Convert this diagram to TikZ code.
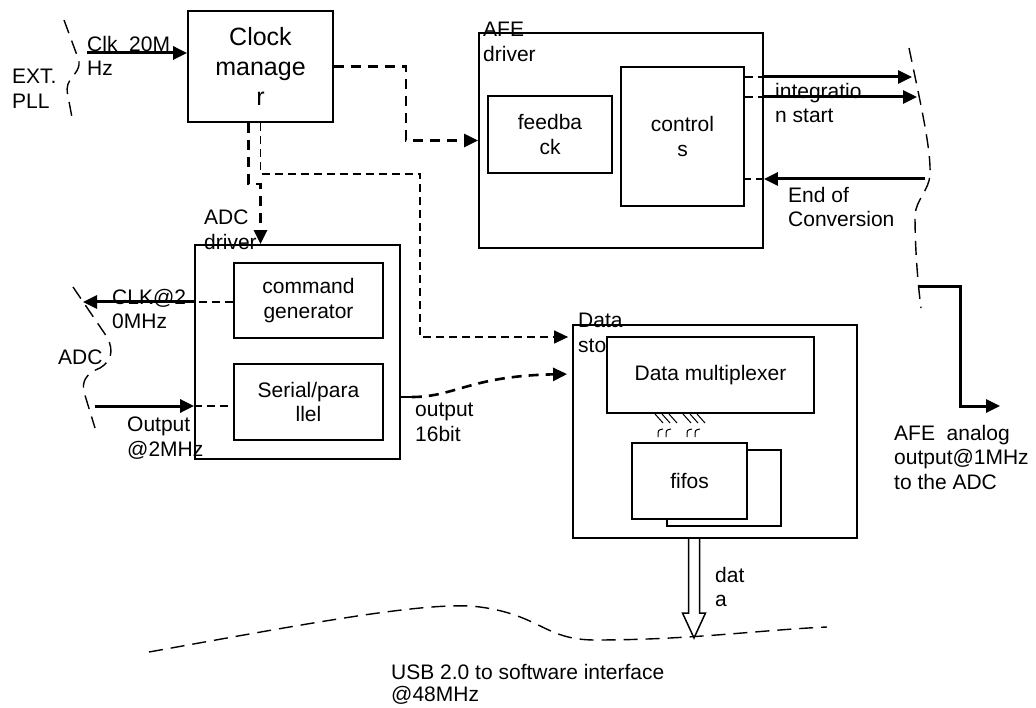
\documentclass[tikz,border=0pt]{standalone}
\usepackage{fontspec}
\setmainfont{Liberation Sans}
\usetikzlibrary{arrows.meta,calc}
\newcommand\lblfont{\fontsize{21}{24.5}\selectfont}
\newcommand\bigfont{\fontsize{25}{30}\selectfont}
\tikzset{
  blk/.style={draw, line width=1.8pt, fill=white, inner sep=0pt, align=center, font=\lblfont},
  txt/.style={inner sep=0pt, align=left, anchor=north west, font=\lblfont},
  sig/.style={line width=3pt, -{Triangle[length=14pt,width=13pt]}},
  thkdash/.style={line width=2.6pt, dash pattern=on 10pt off 7pt},
  thndash/.style={line width=1.4pt, dash pattern=on 8pt off 5pt},
  bnd/.style={line width=1.4pt, dash pattern=on 14pt off 8pt},
  tip/.style={-{Triangle[length=14pt,width=13pt]}}
}
\begin{document}
\begin{tikzpicture}[x=1pt,y=-1pt]
  \useasboundingbox (0,0) rectangle (1036,708);

  % blocks
  \node[blk, minimum width=145pt, minimum height=111pt, font=\bigfont] (clock) at (260.5,66.5) {Clock\\manage\\r};
  \node[blk, minimum width=284pt, minimum height=215pt] (afe) at (621,140.5) {};
  \node[txt] (afelbl) at (483,22) {AFE\\driver};
  \node[blk, minimum width=124pt, minimum height=77pt] (fb) at (550,134.5) {feedba\\ck};
  \node[blk, minimum width=123pt, minimum height=139pt] (ctrl) at (682.5,136.5) {control\\s};

  \node[blk, minimum width=205pt, minimum height=214pt] (adcdrv) at (297.5,352) {};
  \node[txt] (adclbl) at (204,210) {ADC\\driver};
  \node[blk, minimum width=149pt, minimum height=75pt] (cmd) at (308.5,300.5) {command\\generator};
  \node[blk, minimum width=149pt, minimum height=76pt] (ser) at (308.5,402) {Serial/para\\llel};

  \node[blk, minimum width=284pt, minimum height=213pt] (store) at (715,431.5) {};
  \node[txt] (storelbl) at (578,313) {Data\\storage};
  \node[blk, minimum width=207pt, minimum height=76pt] (mux) at (710.5,375) {Data multiplexer};
  \node[blk, minimum width=114pt, minimum height=76pt] (fifob) at (724,488) {};
  \node[blk, minimum width=115pt, minimum height=76pt] (fifo) at (689.5,481) {fifos};

  % bus marks
  \foreach \x in {655,662,669,683,690,697} {
    \draw[line width=1pt] (\x,414) -- ++(8,9);
  }
  \foreach \x in {658,666,687,695} {
    \draw[line width=1pt] (\x+5,429) .. controls (\x,430) .. (\x,437);
  }

  % labels
  \node[txt] (extlbl) at (12,69) {EXT.\\PLL};
  \node[txt] (clklbl) at (87,36) {Clk\ \ 20M\\Hz};
  \node[txt] (intlbl) at (775,83) {integratio\\n start};
  \node[txt] (eoclbl) at (788,187) {End of\\Conversion};
  \node[txt] (adcclk) at (112,289) {CLK@2\\0MHz};
  \node[txt] (adcname) at (58,350) {ADC};
  \node[txt] (outlbl) at (127,417) {Output\\@2MHz};
  \node[txt] (bitlbl) at (415,403) {output\\16bit};
  \node[txt] (anlbl) at (894,425) {AFE\ \ analog\\output@1MHz\\to the ADC};
  \node[txt] (datlbl) at (715,567) {dat\\a};
  \node[txt, font=\fontsize{21}{22}\selectfont] (usblbl) at (391,664) {USB 2.0 to software interface\\@48MHz};

  % free ends
  \coordinate (clkin) at (87,53);
  \coordinate (int1) at (912,77);
  \coordinate (int2) at (917,97);
  \coordinate (eoc) at (925,179);
  \coordinate (anout) at (918,287);
  \coordinate (anend) at (1000,406);
  \coordinate (clkout) at (83,302);
  \coordinate (adcout) at (95,406);
  \coordinate (usb) at (694,638);

  % clock distribution
  \draw[sig] (clkin) -- (clkin -| clock.west);
  \draw[thkdash, tip] (clock.east) -- ++(72,0) |- (afe.west);
  \draw[thkdash, tip] ($(clock.south)+(-12,0)$) -- ++(0,61) -| (clock.south |- adcdrv.north);
  \draw[thndash, tip, shorten >=4pt] (clock.south) -- ++(0,51) -| (420,337) -- (store.west |- 420,337);

  % AFE driver signals
  \draw[thndash] (ctrl.east |- int1) -- (afe.east |- int1);
  \draw[sig] (afe.east |- int1) -- (int1);
  \draw[thndash] (ctrl.east |- int2) -- (afe.east |- int2);
  \draw[sig] (afe.east |- int2) -- (int2);
  \draw[sig] (eoc) -- (afe.east |- eoc);
  \draw[thndash] (afe.east |- eoc) -- (ctrl.east |- eoc);
  \draw[line width=3pt, tip] (anout) -| (960,406) -- (anend);

  % ADC driver signals
  \draw[thndash] (cmd.west |- clkout) -- (adcdrv.west |- clkout);
  \draw[sig] (adcdrv.west |- clkout) -- (clkout);
  \draw[sig] (adcout) -- (adcdrv.west |- adcout);
  \draw[thndash] (adcdrv.west |- adcout) -- (ser.west |- adcout);
  \draw[line width=1.5pt] (adcdrv.east |- 0,397) -- ++(11,0) coordinate (stub);
  \draw[thkdash, tip, shorten >=5pt] (stub) .. controls (455,397) and (470,376) .. (store.west |- 0,374);

  % data out
  \draw[line width=1.5pt] ($(usb |- store.south)+(-5.5,0)$) -- ($(usb)+(-5.5,-25)$) -- ($(usb)+(-11.5,-25)$)
    -- (usb) -- ($(usb)+(11.5,-25)$) -- ($(usb)+(5.5,-25)$) -- ($(usb |- store.south)+(5.5,0)$);

  % boundaries
  \draw[bnd] (64,20) -- (78,58) .. controls (82,68) and (74,74) .. (70,80)
    .. controls (66,86) and (67,92) .. (68,96) -- (73,123);
  \draw[bnd] (73,287) -- (107,337) .. controls (115,352) and (110,362) .. (100,368)
    .. controls (85,374) and (82,382) .. (84,392) -- (95,428);
  \draw[bnd] (909,48) .. controls (922,110) and (931,150) .. (930,175)
    .. controls (929,190) and (916,200) .. (915,215) .. controls (915,250) and (918,285) .. (921,308);
  \draw[bnd] (149,652) .. controls (300,625) and (430,600) .. (480,607)
    .. controls (540,615) and (545,640) .. (595,640) .. controls (690,640) and (760,630) .. (827,627);
\end{tikzpicture}
\end{document}
